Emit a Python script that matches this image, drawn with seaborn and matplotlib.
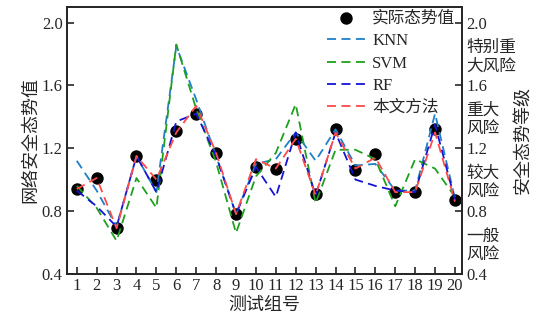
import numpy as np
import pandas as pd
import matplotlib
matplotlib.use("Agg")
import matplotlib.pyplot as plt
import seaborn as sns

# data
groups = list(range(1, 21))
actual = [0.94, 1.01, 0.69, 1.15, 1.00, 1.31, 1.42, 1.17, 0.78, 1.08,
          1.07, 1.26, 0.91, 1.32, 1.06, 1.16, 0.92, 0.92, 1.32, 0.87]
knn = [1.12, 0.93, 0.70, 1.15, 0.92, 1.85, 1.51, 1.15, 0.78, 1.10,
       1.13, 1.30, 1.12, 1.32, 1.09, 1.10, 0.93, 0.93, 1.42, 0.88]
svm = [0.96, 0.82, 0.61, 1.01, 0.82, 1.86, 1.45, 1.11, 0.66, 1.02,
       1.17, 1.48, 0.85, 1.19, 1.19, 1.13, 0.83, 1.13, 1.07, 0.89]
rf = [0.93, 0.83, 0.70, 1.15, 0.92, 1.37, 1.42, 1.15, 0.78, 1.08,
      0.89, 1.30, 0.90, 1.30, 1.00, 0.96, 0.93, 0.92, 1.35, 0.87]
ours = [0.94, 1.01, 0.69, 1.15, 1.00, 1.30, 1.47, 1.17, 0.78, 1.13,
        1.07, 1.26, 0.90, 1.30, 1.07, 1.14, 0.92, 0.92, 1.30, 0.86]

y_ticks = [0.4, 0.8, 1.2, 1.6, 2.0]
level_pos = [0.6, 1.0, 1.4, 1.8]
level_names = ["一般\n风险", "较大\n风险", "重大\n风险", "特别重\n大风险"]

sns.set_theme(style="ticks")
plt.rcParams['font.family'] = ['Liberation Serif', 'Noto Sans CJK SC']
plt.rcParams['font.size'] = 12
plt.rcParams['axes.unicode_minus'] = False

fig = plt.figure(figsize=(5.39, 3.26), dpi=100)
ax = fig.add_axes([0.124, 0.160, 0.733, 0.819])

sns.scatterplot(x=groups, y=actual, ax=ax, color="black", s=80,
                edgecolor="black", linewidth=0, label="实际态势值", zorder=2)

series = [("KNN", knn, "#1f7fc8"),
          ("SVM", svm, "#1ea01e"),
          ("RF", rf, "#1414d2"),
          ("本文方法", ours, "#ff4a4a")]
for name, vals, col in series:
    sns.lineplot(x=groups, y=vals, ax=ax, color=col, linewidth=1.3,
                 label=name, zorder=3)
for line in ax.lines:
    line.set_dashes((5, 3))

ax.set_xlim(0.5, 20.35)
ax.set_ylim(0.4, 2.1)
ax.set_xticks(groups)
ax.set_yticks(y_ticks)
ax.set_yticklabels([f"{v:.1f}" for v in y_ticks])
ax.set_xlabel("测试组号", fontsize=13, labelpad=2)
ax.set_ylabel("网络安全态势值", fontsize=13, labelpad=2)
ax.tick_params(axis="both", direction="in", length=5, width=1.2,
               labelsize=12, pad=3)
for sp in ax.spines.values():
    sp.set_linewidth(1.3)

ax2 = ax.twinx()
ax2.set_ylim(0.4, 2.1)
ax2.set_yticks(y_ticks)
ax2.set_yticklabels([f"{v:.1f}" for v in y_ticks])
ax2.set_yticks(level_pos, minor=True)
ax2.set_yticklabels(level_names, minor=True, linespacing=1.2)
ax2.tick_params(axis="y", which="major", direction="in", length=5,
                width=1.2, labelsize=12, pad=3)
ax2.tick_params(axis="y", which="minor", length=0, labelsize=12, pad=3)
ax2.set_ylabel("安全态势等级", fontsize=13)
ax2.yaxis.set_label_coords(1.135, 0.5)
for sp in ax2.spines.values():
    sp.set_linewidth(1.3)

handles, labels = ax.get_legend_handles_labels()
ax.legend(handles, labels, loc="upper right", frameon=False,
          fontsize=12, handlelength=2.3, handletextpad=0.4,
          labelspacing=0.38, borderaxespad=0.0,
          bbox_to_anchor=(1.0, 1.01))

fig.savefig("out.png", dpi=100)
